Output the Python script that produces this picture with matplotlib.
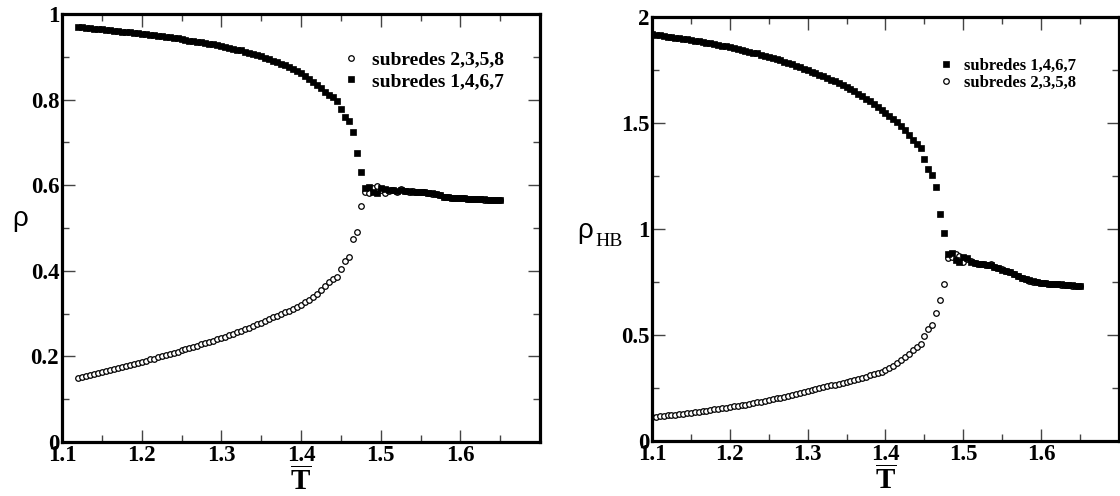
import matplotlib
matplotlib.use('Agg')
import matplotlib.pyplot as plt
from matplotlib.lines import Line2D

# temperature grid (reduced units)
T_right = [1.100, 1.105, 1.110, 1.115, 1.120, 1.125, 1.130, 1.135, 1.140, 1.145,
           1.150, 1.155, 1.160, 1.165, 1.170, 1.175, 1.180, 1.185, 1.190, 1.195,
           1.200, 1.205, 1.210, 1.215, 1.220, 1.225, 1.230, 1.235, 1.240, 1.245,
           1.250, 1.255, 1.260, 1.265, 1.270, 1.275, 1.280, 1.285, 1.290, 1.295,
           1.300, 1.305, 1.310, 1.315, 1.320, 1.325, 1.330, 1.335, 1.340, 1.345,
           1.350, 1.355, 1.360, 1.365, 1.370, 1.375, 1.380, 1.385, 1.390, 1.395,
           1.400, 1.405, 1.410, 1.415, 1.420, 1.425, 1.430, 1.435, 1.440, 1.445,
           1.450, 1.455, 1.460, 1.465, 1.470, 1.475, 1.480, 1.485, 1.490, 1.495,
           1.500, 1.505, 1.510, 1.515, 1.520, 1.525, 1.530, 1.535, 1.540, 1.545,
           1.550, 1.555, 1.560, 1.565, 1.570, 1.575, 1.580, 1.585, 1.590, 1.595,
           1.600, 1.605, 1.610, 1.615, 1.620, 1.625, 1.630, 1.635, 1.640, 1.645,
           1.650]
T_left = T_right[4:]  # left panel starts at 1.12

# left panel: density rho
rho_1467 = [0.970, 0.969, 0.968, 0.967, 0.966, 0.965, 0.964, 0.963, 0.962, 0.961,
            0.960, 0.959, 0.958, 0.957, 0.956, 0.955, 0.954, 0.953, 0.952, 0.950,
            0.949, 0.948, 0.947, 0.946, 0.944, 0.943, 0.941, 0.940, 0.938, 0.937,
            0.935, 0.934, 0.932, 0.931, 0.929, 0.927, 0.925, 0.923, 0.921, 0.919,
            0.917, 0.915, 0.912, 0.910, 0.907, 0.904, 0.901, 0.898, 0.895, 0.891,
            0.888, 0.884, 0.880, 0.876, 0.871, 0.866, 0.861, 0.855, 0.849, 0.842,
            0.835, 0.827, 0.818, 0.811, 0.805, 0.796, 0.777, 0.760, 0.750, 0.725,
            0.676, 0.632, 0.593, 0.595, 0.583, 0.581, 0.593, 0.592, 0.588, 0.589,
            0.587, 0.588, 0.586, 0.586, 0.585, 0.584, 0.584, 0.583, 0.582, 0.581,
            0.580, 0.576, 0.573, 0.572, 0.571, 0.570, 0.570, 0.569, 0.568, 0.568,
            0.567, 0.567, 0.567, 0.566, 0.566, 0.566, 0.566]
rho_2358 = [0.149, 0.151, 0.154, 0.156, 0.158, 0.161, 0.163, 0.165, 0.168, 0.170,
            0.173, 0.175, 0.178, 0.180, 0.183, 0.185, 0.188, 0.190, 0.193, 0.195,
            0.198, 0.200, 0.203, 0.206, 0.208, 0.211, 0.214, 0.217, 0.219, 0.222,
            0.225, 0.228, 0.231, 0.234, 0.237, 0.240, 0.243, 0.246, 0.250, 0.253,
            0.256, 0.260, 0.263, 0.267, 0.271, 0.275, 0.279, 0.283, 0.287, 0.291,
            0.295, 0.299, 0.303, 0.307, 0.311, 0.315, 0.320, 0.326, 0.332, 0.338,
            0.345, 0.354, 0.364, 0.375, 0.381, 0.386, 0.405, 0.423, 0.433, 0.474,
            0.490, 0.551, 0.585, 0.581, 0.593, 0.598, 0.589, 0.581, 0.586, 0.588,
            0.585, 0.590, 0.586, 0.585, 0.586, 0.584, 0.583, 0.583, 0.582, 0.580,
            0.579, 0.577, 0.573, 0.572, 0.571, 0.570, 0.569, 0.569, 0.568, 0.568,
            0.567, 0.567, 0.566, 0.566, 0.566, 0.565, 0.565]

# right panel: hydrogen-bond density rho_HB
hb_1467 = [1.918, 1.916, 1.913, 1.911, 1.908, 1.906, 1.903, 1.900, 1.898, 1.895,
           1.892, 1.889, 1.886, 1.883, 1.879, 1.876, 1.872, 1.869, 1.865, 1.862,
           1.858, 1.854, 1.850, 1.846, 1.841, 1.837, 1.832, 1.828, 1.823, 1.818,
           1.813, 1.807, 1.802, 1.796, 1.790, 1.784, 1.777, 1.771, 1.764, 1.757,
           1.749, 1.742, 1.735, 1.728, 1.720, 1.713, 1.705, 1.697, 1.688, 1.679,
           1.669, 1.659, 1.649, 1.638, 1.627, 1.615, 1.602, 1.589, 1.575, 1.561,
           1.546, 1.531, 1.518, 1.505, 1.484, 1.466, 1.445, 1.418, 1.400, 1.381,
           1.329, 1.281, 1.257, 1.200, 1.069, 0.983, 0.884, 0.887, 0.856, 0.845,
           0.868, 0.865, 0.845, 0.838, 0.836, 0.834, 0.831, 0.829, 0.822, 0.815,
           0.808, 0.803, 0.798, 0.789, 0.778, 0.770, 0.765, 0.758, 0.753, 0.749,
           0.746, 0.744, 0.742, 0.741, 0.740, 0.739, 0.738, 0.736, 0.734, 0.732,
           0.730]
hb_2358 = [0.113, 0.115, 0.117, 0.119, 0.121, 0.123, 0.125, 0.127, 0.129, 0.131,
           0.134, 0.136, 0.138, 0.141, 0.143, 0.146, 0.149, 0.152, 0.154, 0.157,
           0.160, 0.163, 0.166, 0.169, 0.172, 0.175, 0.179, 0.182, 0.186, 0.189,
           0.193, 0.197, 0.201, 0.205, 0.209, 0.213, 0.218, 0.223, 0.228, 0.233,
           0.238, 0.242, 0.246, 0.250, 0.254, 0.258, 0.262, 0.266, 0.270, 0.274,
           0.278, 0.283, 0.288, 0.293, 0.298, 0.303, 0.309, 0.315, 0.321, 0.327,
           0.334, 0.343, 0.355, 0.369, 0.382, 0.396, 0.412, 0.428, 0.443, 0.459,
           0.497, 0.530, 0.547, 0.604, 0.667, 0.739, 0.863, 0.866, 0.880, 0.875,
           0.845, 0.860, 0.850, 0.840, 0.837, 0.835, 0.832, 0.833, 0.823, 0.816,
           0.809, 0.804, 0.797, 0.788, 0.779, 0.771, 0.764, 0.757, 0.752, 0.748,
           0.745, 0.743, 0.741, 0.740, 0.739, 0.738, 0.737, 0.735, 0.733, 0.731,
           0.729]

x_ticks = [1.1, 1.2, 1.3, 1.4, 1.5, 1.6]
x_labels = ['1.1', '1.2', '1.3', '1.4', '1.5', '1.6']
left_yticks = [0, 0.2, 0.4, 0.6, 0.8, 1.0]
left_ylabels = ['0', '0.2', '0.4', '0.6', '0.8', '1']
right_yticks = [0, 0.5, 1.0, 1.5, 2.0]
right_ylabels = ['0', '0.5', '1', '1.5', '2']
lab_a = 'subredes 1,4,6,7'
lab_b = 'subredes 2,3,5,8'

plt.rcParams['mathtext.fontset'] = 'custom'
plt.rcParams['mathtext.bf'] = 'Liberation Serif:bold'
plt.rcParams['mathtext.rm'] = 'Liberation Serif'

SERIF = 'Liberation Serif'
fig = plt.figure(figsize=(11.2, 4.96), dpi=100)
ax1 = fig.add_axes([62 / 1120, 54 / 496, 478 / 1120, 428 / 496])
ax2 = fig.add_axes([652 / 1120, 55 / 496, 467 / 1120, 424 / 496])

circ = dict(ls='none', marker='o', ms=4.0, mfc='white', mec='black', mew=0.9)
sq = dict(ls='none', marker='s', ms=3.8, mfc='black', mec='black', mew=0.5)

ax1.plot(T_left, rho_2358, **circ)
ax1.plot(T_left, rho_1467, **sq)
ax2.plot(T_right, hb_2358, **circ)
ax2.plot(T_right, hb_1467, **sq)

for ax, yt, yl, ymin in [(ax1, left_yticks, left_ylabels, 0.1),
                         (ax2, right_yticks, right_ylabels, 0.25)]:
    ax.set_xlim(1.1, 1.7)
    ax.set_ylim(yt[0], yt[-1])
    ax.set_xticks(x_ticks)
    ax.set_xticklabels(x_labels)
    ax.set_yticks(yt)
    ax.set_yticklabels(yl)
    ax.set_xticks([1.15, 1.25, 1.35, 1.45, 1.55, 1.65], minor=True)
    ax.set_yticks([v * ymin for v in range(int(round(yt[-1] / ymin)) + 1)], minor=True)
    for s in ax.spines.values():
        s.set_linewidth(2.3)
    ax.tick_params(which='both', direction='in', top=True, right=True, width=1.0, color='#444444')
    ax.tick_params(which='major', length=9, pad=2)
    ax.tick_params(which='minor', length=5)
    for t in ax.get_xticklabels() + ax.get_yticklabels():
        t.set_family(SERIF)
        t.set_fontweight('bold')
        t.set_fontsize(16.5)
    ax.set_xlabel(r'$\mathbf{\overline{T}}$', fontsize=21, va='center')
    ax.xaxis.set_label_coords(0.5, -0.093)

ax1.set_ylabel('ρ', family='Liberation Sans', fontsize=20, rotation=0)
ax1.yaxis.set_label_coords(-0.088, 0.49)
fig.text(0.5155, 0.535, 'ρ', family='Liberation Sans', fontsize=20, ha='left', va='center')
fig.text(0.5315, 0.513, 'HB', family=SERIF, fontsize=14, ha='left', va='center')

h_sq = Line2D([], [], **sq)
h_ci = Line2D([], [], **circ)
ax1.legend([h_ci, h_sq], [lab_b, lab_a], loc='upper right', bbox_to_anchor=(0.962, 0.955),
           frameon=False, handlelength=0.6, handletextpad=0.8, labelspacing=0.2,
           prop={'family': SERIF, 'weight': 'bold', 'size': 14})
ax2.legend([h_sq, h_ci], [lab_a, lab_b], loc='upper right', bbox_to_anchor=(0.94, 0.94),
           frameon=False, handlelength=0.6, handletextpad=0.8, labelspacing=0.1,
           prop={'family': SERIF, 'weight': 'bold', 'size': 12})

fig.savefig('out.png', dpi=100)
